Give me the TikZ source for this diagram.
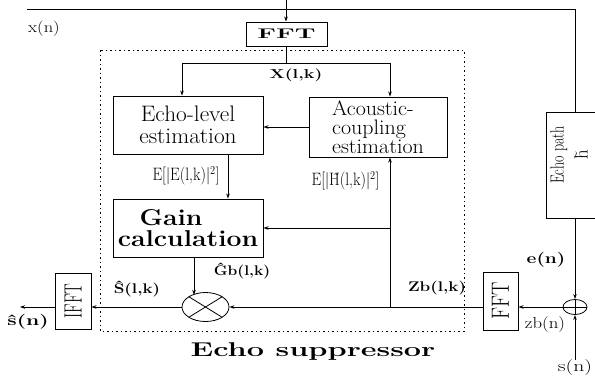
\documentclass[tikz,border=0pt]{standalone}
\usetikzlibrary{arrows.meta,shapes.geometric,calc}
\newcommand{\fz}[2]{\fontsize{#1}{#2}\selectfont}
\newcommand{\sx}[2]{\scalebox{#1}[1]{#2}}
\begin{document}
\begin{tikzpicture}[x=1bp,y=-1bp, line width=0.8bp,
  box/.style={draw, rectangle, inner sep=0pt, line width=0.9bp},
  arr/.style={-{Stealth[length=5bp,width=3.5bp]}},
  lab/.style={inner sep=0pt},
  dotbox/.style={dash pattern=on 1.5bp off 3bp, line width=1bp}]
\useasboundingbox (0,0) rectangle (595,382);

% blocks
\node[box, minimum width=81bp, minimum height=24bp, font=\bfseries\fz{14}{14}] (fft1) at (286.5,34) {\sx{1.9}{FFT}};
\node[box, minimum width=150bp, minimum height=58bp, align=center, font=\fz{22.5}{22}] (el) at (188,125) {\sx{1.04}{Echo-level}\\\sx{1.04}{estimation}};
\node[box, minimum width=138bp, minimum height=60bp, align=left, font=\fz{21}{19}] (ac) at (378,127) {\sx{1.05}{Acoustic-}\\\sx{1.05}{coupling}\\\sx{1.05}{estimation}};
\node[box, minimum width=150bp, minimum height=58bp, align=center, font=\bfseries\fz{23}{21}] (gain) at (188,228) {\sx{1.16}{Gain}\hspace*{34bp}\\\sx{1.16}{calculation}};
\node[draw, ellipse, minimum width=47bp, minimum height=29bp, inner sep=0pt,
  path picture={\draw (path picture bounding box.north west) -- (path picture bounding box.south east)
                      (path picture bounding box.south west) -- (path picture bounding box.north east);}] (mult) at (205.5,307) {};
\node[draw, ellipse, minimum width=24bp, minimum height=15bp, inner sep=0pt,
  path picture={\draw (path picture bounding box.north) -- (path picture bounding box.south)
                      (path picture bounding box.west) -- (path picture bounding box.east);}] (add) at (575,307) {};
\node[box, minimum width=36bp, minimum height=56bp] (ifft) at (73,301) {\rotatebox{90}{\fz{25}{25}\sx{0.64}{IFFT}}};
\node[box, minimum width=35bp, minimum height=58bp] (fft2) at (500.5,301) {\rotatebox{90}{\fz{25}{25}\sx{0.8}{FFT}}};
\node[box, minimum width=64bp, minimum height=106bp] (echo) at (578,165) {};
\node[lab, rotate=90, align=center, font=\fz{19}{24}] (echotxt) at (569,155) {\sx{0.74}{Echo path}\\\~{h}};

% dotted suppressor frame
\draw[dotbox] (100,50) rectangle (464,331);

% connectors
\coordinate (xin) at (27,9);
\coordinate (tr) at (575,9);
\draw (xin) -- (tr) -- (tr |- echo.north);
\coordinate (xtop) at (286,0);
\draw[arr] (xtop) -- (xtop |- fft1.north);
\coordinate (xs) at (286,63);
\coordinate (xl) at (182,63);
\coordinate (xr) at (390,63);
\draw (xs |- fft1.south) -- (xs);
\draw (xl) -- (xr);
\draw[arr] (xl) -- (xl |- el.north);
\draw[arr] (xr) -- (xr |- ac.north);
\draw[arr] (ac.west) -- (ac.west -| el.east);
\coordinate (eg) at (228,0);
\draw[arr] (eg |- el.south) -- (eg |- gain.north);
\coordinate (zv) at (390,307);
\draw[arr] (zv) -- (zv |- ac.south);
\draw[arr] (gain.east -| zv) -- (gain.east);
\draw[arr] (add.west) -- (add.west -| fft2.east);
\draw[arr] (fft2.west |- add.west) -- (mult.east);
\coordinate (gm) at (194,295);
\draw[arr] (gm |- gain.south) -- (gm);
\draw[arr] (mult.west) -- (mult.west -| ifft.east);
\coordinate (out) at (20,307);
\draw[arr] (ifft.west |- mult.west) -- (out);
\draw[arr] (echo.south -| tr) -- (add.north);
\node[lab, font=\fz{16}{16}] (sn) at (575,368) {\sx{1.36}{s(n)}};
\draw[arr] (sn.north) -- (add.south);

% labels
\node[lab, font=\fz{15.5}{15.5}] (xn) at (44,28.5) {\sx{1.2}{x(n)}};
\node[lab, font=\bfseries\fz{13}{13}] (Xlk) at (296,75) {\sx{1.38}{X(l,k)}};
\node[lab, font=\fz{18}{18}] (EE) at (186,176) {\sx{0.86}{E[$|$E(l,k)$|^{2}$]}};
\node[lab, font=\fz{18}{18}] (EH) at (345.5,181) {\sx{0.86}{E[$|$\~{H}(l,k)$|^{2}$]}};
\node[lab, font=\bfseries\fz{14}{14}] (Gb) at (242,271) {\sx{1.12}{\^{G}b(l,k)}};
\node[lab, font=\bfseries\fz{14}{14}] (Shat) at (137,289) {\sx{1.22}{\^{S}(l,k)}};
\node[lab, font=\bfseries\fz{14}{14}] (Zb) at (437,288) {\sx{1.22}{Zb(l,k)}};
\node[lab, font=\bfseries\fz{15}{15}] (en) at (546,260) {\sx{1.28}{e(n)}};
\node[lab, font=\fz{16}{16}] (zbn) at (545,325) {\sx{1.18}{zb(n)}};
\node[lab, font=\bfseries\fz{15}{15}] (shat) at (28,322) {\sx{1.42}{\^{s}(n)}};
\node[lab, font=\bfseries\fz{20}{20}] (supp) at (313,352) {\sx{1.54}{Echo suppressor}};
\end{tikzpicture}
\end{document}
